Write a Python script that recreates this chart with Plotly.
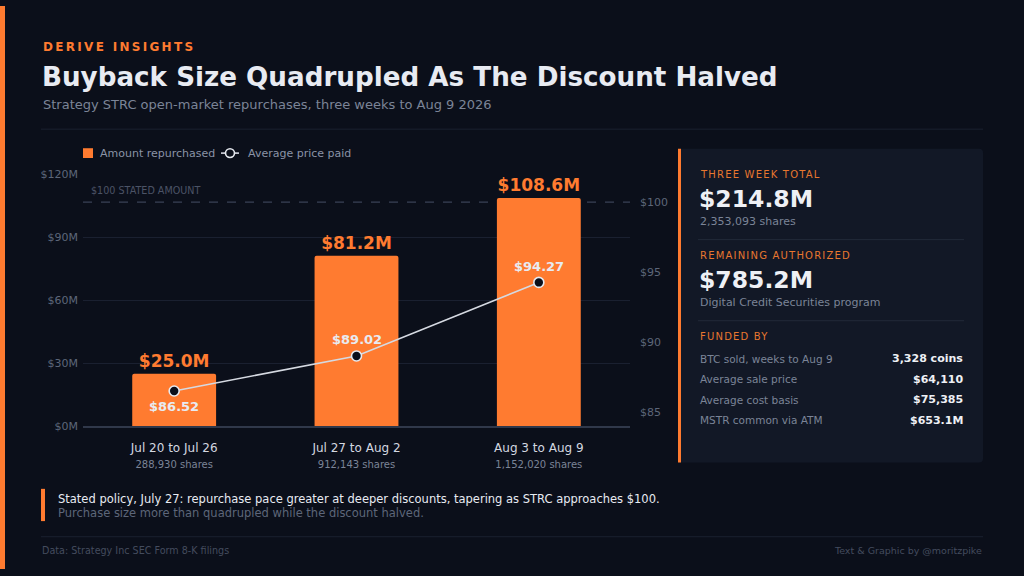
import plotly.graph_objects as go

W, H = 1024, 576

# chart data
weeks = ["Jul 20 to Jul 26", "Jul 27 to Aug 2", "Aug 3 to Aug 9"]
shares = [288930, 912143, 1152020]
amount_m = [25.0, 81.2, 108.6]
avg_price = [86.52, 89.02, 94.27]
price_label_side = [-1, 1, 1]  # below / above the point
stated_amount = 100
authorized_m = 1000.0

amount_ticks = [0, 30, 60, 90, 120]
price_ticks = [85, 90, 95, 100]

funded_labels = ["BTC sold, weeks to Aug 9", "Average sale price",
                 "Average cost basis", "MSTR common via ATM"]
funded_values = ["3,328 coins", "$64,110", "$75,385", "$653.1M"]

BG = "#0b0f1a"
CARD = "#121826"
ORANGE = "#ff7b30"
ORANGE_TXT = "#e8772f"
WHITE = "#e8ebf2"
GREY = "#7b8497"
DIM = "#5d6679"
GRID = "#1a2030"
LINE = "#d5d9e1"
FONT = "DejaVu Sans"


def px(x):
    return x / W


def py(y):
    return 1 - y / H


annotations = []


def note(x, y, text, size, color, bold=False, anchor="left", spacing=None):
    if spacing:
        text = f'<span style="letter-spacing:{spacing}px">{text}</span>'
    if bold:
        text = f"<b>{text}</b>"
    annotations.append(dict(x=px(x), y=py(y), xref="paper", yref="paper",
                            text=text, showarrow=False, xanchor=anchor,
                            yanchor="middle",
                            font=dict(family=FONT, size=size, color=color)))


def rounded_rect(x0, y0, x1, y1, r):
    # pixel box -> paper path with rounded corners
    X = [px(v) for v in (x0, x0 + r, x1 - r, x1)]
    Y = [py(v) for v in (y0, y0 + r, y1 - r, y1)]
    return (f"M{X[1]},{Y[0]} L{X[2]},{Y[0]} Q{X[3]},{Y[0]} {X[3]},{Y[1]} "
            f"L{X[3]},{Y[2]} Q{X[3]},{Y[3]} {X[2]},{Y[3]} L{X[1]},{Y[3]} "
            f"Q{X[0]},{Y[3]} {X[0]},{Y[2]} L{X[0]},{Y[1]} Q{X[0]},{Y[0]} {X[1]},{Y[0]} Z")


tick_text = [f"{w}<br><span style='font-size:10px;color:{GREY}'>{s:,} shares</span>"
             for w, s in zip(weeks, shares)]

fig = go.Figure()
fig.add_trace(go.Bar(
    x=weeks, y=amount_m, name="Amount repurchased",
    marker=dict(color=ORANGE, line=dict(width=0)),
    texttemplate="<b>$%{y:.1f}M</b>", textposition="outside",
    textfont=dict(family=FONT, size=17, color=ORANGE),
    cliponaxis=False, hoverinfo="skip",
))
fig.add_trace(go.Scatter(
    x=weeks, y=avg_price, yaxis="y2", name="Average price paid",
    mode="lines+markers",
    line=dict(color=LINE, width=1.6),
    marker=dict(size=10, color=BG, line=dict(color="#e6e9ef", width=1.6)),
    cliponaxis=False, hoverinfo="skip",
))

# price labels, positioned on the price axis
for w, p, side in zip(weeks, avg_price, price_label_side):
    annotations.append(dict(x=w, y=p, xref="x", yref="y2", text=f"<b>${p:.2f}</b>",
                            showarrow=False, yanchor="middle", yshift=16 * side,
                            font=dict(family=FONT, size=13, color=WHITE)))

shapes = [
    # left accent stripe
    dict(type="rect", xref="paper", yref="paper", x0=0, x1=px(5), y0=0, y1=1,
         fillcolor=ORANGE, line_width=0, layer="below"),
    # header and footer rules
    dict(type="line", xref="paper", yref="paper", x0=px(41), x1=px(983),
         y0=py(126), y1=py(126), line=dict(color="#1b2130", width=1)),
    dict(type="line", xref="paper", yref="paper", x0=px(41), x1=px(983),
         y0=py(543), y1=py(543), line=dict(color="#1b2130", width=1)),
    # $100 stated amount
    dict(type="line", xref="paper", yref="y2", x0=px(83), x1=px(630),
         y0=stated_amount, y1=stated_amount, layer="below",
         line=dict(color="#3a4256", width=1.2, dash="dash")),
    # legend swatches
    dict(type="rect", xref="paper", yref="paper", x0=px(83), x1=px(93),
         y0=py(155.5), y1=py(145.5), fillcolor=ORANGE, line_width=0),
    dict(type="line", xref="paper", yref="paper", x0=px(221), x1=px(239),
         y0=py(150.5), y1=py(150.5), line=dict(color=LINE, width=1.6)),
    dict(type="circle", xref="paper", yref="paper", x0=px(225.5), x1=px(234.5),
         y0=py(155), y1=py(146), fillcolor=BG, line=dict(color="#e6e9ef", width=1.6)),
    # side card
    dict(type="path", xref="paper", yref="paper", path=rounded_rect(678, 146, 983, 467, 4),
         fillcolor=CARD, line_width=0, layer="below"),
    dict(type="rect", xref="paper", yref="paper", x0=px(678), x1=px(681),
         y0=py(467), y1=py(146), fillcolor=ORANGE, line_width=0),
    dict(type="line", xref="paper", yref="paper", x0=px(698), x1=px(964),
         y0=py(239), y1=py(239), line=dict(color="#222939", width=1)),
    dict(type="line", xref="paper", yref="paper", x0=px(698), x1=px(964),
         y0=py(322), y1=py(322), line=dict(color="#222939", width=1)),
    # callout bar
    dict(type="rect", xref="paper", yref="paper", x0=px(41), x1=px(45),
         y0=py(527), y1=py(494), fillcolor=ORANGE, line_width=0),
]

# header
note(41, 42, "DERIVE INSIGHTS", 12, ORANGE, bold=True, spacing=2.3)
note(40, 73, "Buyback Size Quadrupled As The Discount Halved", 26.2, WHITE, bold=True)
note(41, 101, "Strategy STRC open-market repurchases, three weeks to Aug 9 2026", 13, GREY)

# legend labels
note(98, 150.5, "Amount repurchased", 11, "#8a93a6")
note(246, 150.5, "Average price paid", 11, "#8a93a6")

note(89, 189, f"${stated_amount} STATED AMOUNT", 9.6, "#4b5366")

# side card
total_m = sum(amount_m)
note(698, 172, "THREE WEEK TOTAL", 10, ORANGE_TXT, spacing=1.2)
note(697, 197, f"${total_m:.1f}M", 23.5, "#eef0f5", bold=True)
note(698, 220, f"{sum(shares):,} shares", 11, GREY)
note(698, 255, "REMAINING AUTHORIZED", 10, ORANGE_TXT, spacing=1.2)
note(697, 280, f"${authorized_m - total_m:.1f}M", 23.5, "#eef0f5", bold=True)
note(698, 303, "Digital Credit Securities program", 11, GREY)
note(698, 338, "FUNDED BY", 10, ORANGE_TXT, spacing=1.2)
for i, (lab, val) in enumerate(zip(funded_labels, funded_values)):
    y = 361 + i * 21
    note(698, y, lab, 10.5, GREY)
    note(965, y, val, 11, "#eef0f5", bold=True, anchor="right")

# callout and footer
note(56, 504, "Stated policy, July 27: repurchase pace greater at deeper discounts, "
     "tapering as STRC approaches $100.", 11.5, WHITE)
note(56, 519, "Purchase size more than quadrupled while the discount halved.", 11.5, DIM)
note(40, 557, "Data: Strategy Inc SEC Form 8-K filings", 9.6, "#444c5e")
note(984, 557, "Text &amp; Graphic by @moritzpike", 9.5, "#444c5e", anchor="right")

fig.update_layout(
    width=W, height=H, margin=dict(l=0, r=0, t=0, b=0),
    paper_bgcolor=BG, plot_bgcolor=BG,
    font=dict(family=FONT, color=GREY),
    bargap=0.54, barcornerradius=2,
    showlegend=False,
    xaxis=dict(domain=[px(83), px(630)], tickvals=weeks, ticktext=tick_text,
               tickfont=dict(family=FONT, size=12, color="#d4d8e0"),
               showline=True, linecolor="#30384a", linewidth=1.5,
               showgrid=False, zeroline=False, ticklabelstandoff=10,
               fixedrange=True),
    yaxis=dict(domain=[py(430), py(172)], range=[0, 120],
               tickvals=amount_ticks, ticktext=[f"${t}M" for t in amount_ticks],
               tickfont=dict(family=FONT, size=11, color=DIM),
               gridcolor=GRID, gridwidth=1, zeroline=False,
               ticklabelstandoff=4, fixedrange=True),
    yaxis2=dict(overlaying="y", side="right", range=[84, 102],
                tickvals=price_ticks, ticktext=[f"${t}" for t in price_ticks],
                tickfont=dict(family=FONT, size=11, color=DIM),
                showgrid=False, zeroline=False, ticklabelstandoff=9,
                fixedrange=True),
    shapes=shapes, annotations=annotations,
)

fig.write_html("out.html", config={"displayModeBar": False},
               post_script="document.body.style.margin='0';"
                           "document.body.style.overflow='hidden';")
